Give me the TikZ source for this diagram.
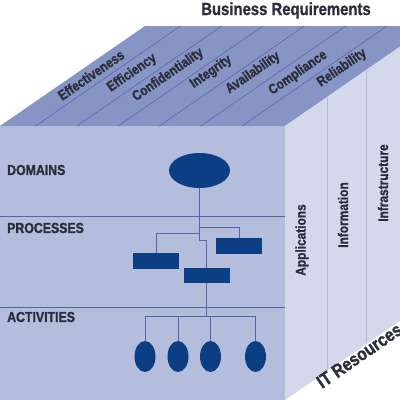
\documentclass[tikz,border=0pt]{standalone}
\usepackage{fontspec}
\setmainfont{Liberation Sans}
\newfontfamily\condbold{Liberation Sans}[FakeStretch=0.85, UprightFont={* Bold}, FakeBold=1.2]
\usepackage{tikz}
\usetikzlibrary{shapes.geometric, positioning, calc}
\definecolor{frontblue}{HTML}{B4BEDC}
\definecolor{topblue}{HTML}{8795C5}
\definecolor{sideblue}{HTML}{D3D8EA}
\definecolor{navy}{HTML}{0C3E84}
\definecolor{linkblue}{HTML}{5565A3}
\definecolor{stripeblue}{HTML}{5568AC}
\definecolor{sideline}{HTML}{B5BCD8}
\definecolor{inkgray}{HTML}{2B2D3A}
\tikzset{
  face/.style={fill=#1, draw=none},
  stripe/.style={draw=stripeblue, line width=0.6pt},
  sideline/.style={draw=sideline, line width=0.7pt},
  divider/.style={draw=linkblue, line width=0.8pt},
  link/.style={draw=linkblue, line width=1pt},
  crit/.style={
    rotate=34.6, inner sep=0pt, text=inkgray,
    font=\condbold\fontsize{14}{15}\selectfont
  },
  resource/.style={
    rotate=90, inner sep=0pt, text=inkgray,
    font=\condbold\fontsize{14}{15}\selectfont
  },
  level/.style={
    anchor=west, inner sep=0pt, text=inkgray,
    font=\condbold\fontsize{14.5}{15}\selectfont
  },
  heading/.style={
    inner sep=0pt, text=inkgray,
    font=\condbold\fontsize{17.5}{18}\selectfont
  },
  domainshape/.style={ellipse, fill=navy, draw=none, minimum width=61pt, minimum height=35pt, inner sep=0pt},
  procbox/.style={rectangle, fill=navy, draw=none, minimum width=46pt, minimum height=15.5pt, inner sep=0pt},
  actshape/.style={ellipse, fill=navy, draw=none, minimum width=21pt, minimum height=31pt, inner sep=0pt}
}

\begin{document}
\begin{tikzpicture}[x=1pt, y=-1pt]
  \useasboundingbox (0,0) rectangle (400,400);
  \fill[white] (0,0) rectangle (400,400);
  \clip (0,0) rectangle (400,400);

  \fill[face=frontblue] (0,126) rectangle (285,400);
  \fill[face=topblue] (0,126) -- (145,26) -- (430,26) -- (285,126) -- cycle;
  \fill[face=sideblue] (285,126) -- (430,26) -- (430,300) -- (285,400) -- cycle;

  \foreach \x in {35.5,76.8,118.1,159.4,200.7,242} {
    \draw[stripe] (\x,126) -- ++(145,-100);
  }
  \draw[sideline] (327,97) -- (327,371);
  \draw[sideline] (366,70) -- (366,344);

  \draw[divider] (0,216) -- (285,216);
  \draw[divider] (0,307) -- (285,307);

  \node[heading, anchor=base] (busreq) at (286,15) {Business Requirements};
  \node[crit] (eff) at (91,75) {Effectiveness};
  \node[crit] (effi) at (132,73) {Efficiency};
  \node[crit] (conf) at (168,75) {Confidentiality};
  \node[crit] (integ) at (211,72) {Integrity};
  \node[crit] (avail) at (253,73) {Availability};
  \node[crit] (compl) at (298,73) {Compliance};
  \node[crit] (relia) at (342,68) {Reliability};

  \node[level] (domains) at (7,170) {DOMAINS};
  \node[level] (processes) at (7,228) {PROCESSES};
  \node[level] (activities) at (7,317) {ACTIVITIES};

  \node[resource] (apps) at (302,240) {Applications};
  \node[resource] (info) at (343,215) {Information};
  \node[resource] (infra) at (383,183) {Infrastructure};
  \node[heading, font=\condbold\fontsize{18.5}{19}\selectfont, rotate=34.6, anchor=base west] (itres) at (322,389) {IT Resources};

  \node[domainshape] (dom) at (199.5,170.5) {};
  \node[procbox] (p1) at (239,246) {};
  \node[procbox] (p2) at (156,261) {};
  \node[procbox] (p3) at (206.5,275.5) {};
  \foreach \x [count=\i] in {145,178,210.5,255.5} {
    \node[actshape] (a\i) at (\x,356.5) {};
  }

  \coordinate (jr) at (199.5,227);
  \coordinate (jl) at (199.5,233);
  \coordinate (jm) at (199.5,240);
  \coordinate (bus) at (206.5,316);
  \draw[link] (dom.south) -- (jm) -| (p3.north);
  \draw[link] (jr) -| (p1.north);
  \draw[link] (jl) -| (p2.north);
  \draw[link] (p3.south) -- (bus);
  \foreach \i in {1,...,4} {
    \draw[link] (a\i.north) |- (bus);
  }
\end{tikzpicture}
\end{document}
